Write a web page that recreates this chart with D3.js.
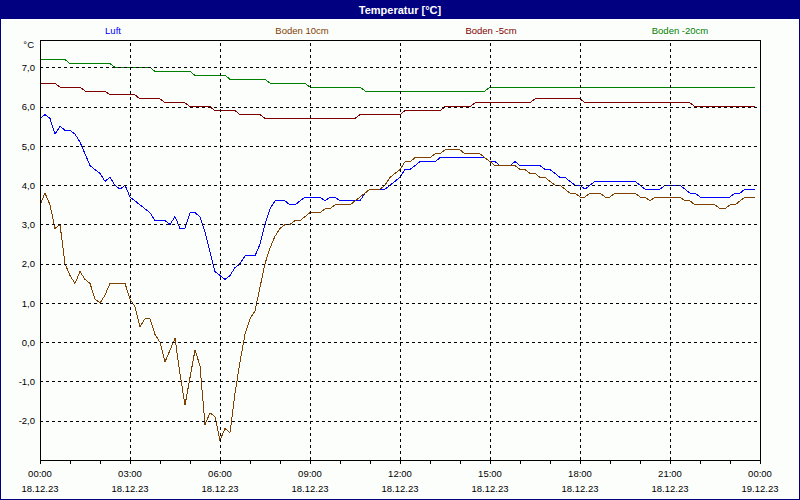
<!DOCTYPE html>
<html>
<head>
<meta charset="utf-8">
<script src="https://cdn.jsdelivr.net/npm/d3@7"></script>
<style>
  body { margin: 0; background: #fff; }
  svg { display: block; font-family: 'Liberation Sans', Arial, sans-serif; }
  .grid line { stroke: #000; stroke-dasharray: 3,3; shape-rendering: crispEdges; }
  .grid .domain { display: none; }
  .series { fill: none; stroke-width: 1; shape-rendering: crispEdges; }
  .labels .domain, .labels line { display: none; }
  .labels text { font-size: 9.5px; fill: #000; }
</style>
</head>
<body>
<div id="chart"></div>
<script>
const title = 'Temperatur [°C]'
const unit = '°C'
const start = new Date(2023, 11, 18, 0, 0)
const end = new Date(2023, 11, 19, 0, 0)
const stepMinutes = 10 // one reading every 10 minutes, 00:00 .. 23:50

const seriesNames = ['Luft', 'Boden 10cm', 'Boden -5cm', 'Boden -20cm']
const seriesColors = ['#0000ff', '#804000', '#800000', '#008000']

const luft = [
  5.7, 5.8, 5.7, 5.3, 5.5, 5.4, 5.4, 5.3, 5.1, 4.8,
  4.5, 4.4, 4.3, 4.1, 4.2, 4.0, 3.9, 4.0, 3.7, 3.6,
  3.5, 3.4, 3.3, 3.1, 3.1, 3.1, 3.0, 3.2, 2.9, 2.9,
  3.3, 3.3, 3.2, 2.8, 2.3, 1.8, 1.7, 1.6, 1.7, 1.9,
  2.0, 2.2, 2.2, 2.2, 2.5, 3.0, 3.4, 3.6, 3.6, 3.6,
  3.5, 3.5, 3.6, 3.7, 3.7, 3.7, 3.7, 3.6, 3.7, 3.7,
  3.6, 3.6, 3.6, 3.6, 3.6, 3.8, 3.9, 3.9, 3.9, 3.9,
  4.0, 4.1, 4.2, 4.4, 4.4, 4.5, 4.6, 4.6, 4.6, 4.6,
  4.7, 4.7, 4.7, 4.7, 4.7, 4.7, 4.7, 4.7, 4.7, 4.7,
  4.6, 4.6, 4.5, 4.5, 4.5, 4.6, 4.5, 4.5, 4.5, 4.5,
  4.5, 4.4, 4.4, 4.3, 4.2, 4.2, 4.1, 4.0, 4.0, 3.9,
  4.0, 4.1, 4.1, 4.1, 4.1, 4.1, 4.1, 4.1, 4.1, 4.1,
  4.0, 3.9, 3.9, 3.9, 3.9, 4.0, 4.0, 4.0, 4.0, 3.9,
  3.8, 3.8, 3.7, 3.7, 3.7, 3.7, 3.7, 3.7, 3.7, 3.8,
  3.8, 3.9, 3.9, 3.9
]

const boden10 = [
  3.5, 3.8, 3.5, 2.9, 3.0, 2.0, 1.7, 1.5, 1.8, 1.6,
  1.5, 1.1, 1.0, 1.2, 1.5, 1.5, 1.5, 1.5, 1.1, 0.9,
  0.4, 0.6, 0.6, 0.2, 0.0, -0.5, -0.2, 0.1, -0.8, -1.6,
  -0.9, -0.2, -0.6, -2.1, -1.8, -1.9, -2.5, -2.2, -2.3, -1.3,
  -0.5, 0.2, 0.6, 0.8, 1.4, 2.0, 2.4, 2.7, 2.9, 3.0,
  3.0, 3.1, 3.1, 3.2, 3.3, 3.3, 3.3, 3.4, 3.4, 3.5,
  3.5, 3.5, 3.5, 3.6, 3.7, 3.8, 3.9, 3.9, 3.9, 4.0,
  4.2, 4.3, 4.4, 4.6, 4.6, 4.7, 4.7, 4.7, 4.7, 4.8,
  4.8, 4.9, 4.9, 4.9, 4.9, 4.8, 4.8, 4.8, 4.8, 4.7,
  4.6, 4.5, 4.5, 4.5, 4.5, 4.5, 4.4, 4.4, 4.3, 4.3,
  4.2, 4.2, 4.1, 4.0, 4.0, 3.9, 3.8, 3.8, 3.7, 3.7,
  3.8, 3.8, 3.8, 3.7, 3.7, 3.8, 3.8, 3.8, 3.8, 3.8,
  3.7, 3.7, 3.6, 3.7, 3.7, 3.7, 3.7, 3.7, 3.7, 3.6,
  3.6, 3.5, 3.5, 3.5, 3.5, 3.5, 3.4, 3.4, 3.5, 3.5,
  3.6, 3.7, 3.7, 3.7
]

const boden5 = [
  6.6, 6.6, 6.6, 6.6, 6.5, 6.5, 6.5, 6.5, 6.5, 6.4,
  6.4, 6.4, 6.4, 6.4, 6.3, 6.3, 6.3, 6.3, 6.3, 6.3,
  6.2, 6.2, 6.2, 6.2, 6.2, 6.1, 6.1, 6.1, 6.1, 6.1,
  6.0, 6.0, 6.0, 6.0, 6.0, 5.9, 5.9, 5.9, 5.9, 5.9,
  5.8, 5.8, 5.8, 5.8, 5.8, 5.7, 5.7, 5.7, 5.7, 5.7,
  5.7, 5.7, 5.7, 5.7, 5.7, 5.7, 5.7, 5.7, 5.7, 5.7,
  5.7, 5.7, 5.7, 5.7, 5.8, 5.8, 5.8, 5.8, 5.8, 5.8,
  5.8, 5.8, 5.8, 5.9, 5.9, 5.9, 5.9, 5.9, 5.9, 5.9,
  5.9, 6.0, 6.0, 6.0, 6.0, 6.0, 6.0, 6.1, 6.1, 6.1,
  6.1, 6.1, 6.1, 6.1, 6.1, 6.1, 6.1, 6.1, 6.1, 6.2,
  6.2, 6.2, 6.2, 6.2, 6.2, 6.2, 6.2, 6.2, 6.2, 6.1,
  6.1, 6.1, 6.1, 6.1, 6.1, 6.1, 6.1, 6.1, 6.1, 6.1,
  6.1, 6.1, 6.1, 6.1, 6.1, 6.1, 6.1, 6.1, 6.1, 6.1,
  6.1, 6.0, 6.0, 6.0, 6.0, 6.0, 6.0, 6.0, 6.0, 6.0,
  6.0, 6.0, 6.0, 6.0
]

const boden20 = [
  7.2, 7.2, 7.2, 7.2, 7.2, 7.2, 7.1, 7.1, 7.1, 7.1,
  7.1, 7.1, 7.1, 7.1, 7.1, 7.0, 7.0, 7.0, 7.0, 7.0,
  7.0, 7.0, 7.0, 6.9, 6.9, 6.9, 6.9, 6.9, 6.9, 6.9,
  6.9, 6.8, 6.8, 6.8, 6.8, 6.8, 6.8, 6.8, 6.7, 6.7,
  6.7, 6.7, 6.7, 6.7, 6.7, 6.7, 6.6, 6.6, 6.6, 6.6,
  6.6, 6.6, 6.6, 6.6, 6.5, 6.5, 6.5, 6.5, 6.5, 6.5,
  6.5, 6.5, 6.5, 6.5, 6.5, 6.4, 6.4, 6.4, 6.4, 6.4,
  6.4, 6.4, 6.4, 6.4, 6.4, 6.4, 6.4, 6.4, 6.4, 6.4,
  6.4, 6.4, 6.4, 6.4, 6.4, 6.4, 6.4, 6.4, 6.4, 6.4,
  6.5, 6.5, 6.5, 6.5, 6.5, 6.5, 6.5, 6.5, 6.5, 6.5,
  6.5, 6.5, 6.5, 6.5, 6.5, 6.5, 6.5, 6.5, 6.5, 6.5,
  6.5, 6.5, 6.5, 6.5, 6.5, 6.5, 6.5, 6.5, 6.5, 6.5,
  6.5, 6.5, 6.5, 6.5, 6.5, 6.5, 6.5, 6.5, 6.5, 6.5,
  6.5, 6.5, 6.5, 6.5, 6.5, 6.5, 6.5, 6.5, 6.5, 6.5,
  6.5, 6.5, 6.5, 6.5
]

const yTicks = [-2, -1, 0, 1, 2, 3, 4, 5, 6, 7]
const xLabelHours = [0, 3, 6, 9, 12, 15, 18, 21, 24]

const series = [luft, boden10, boden5, boden20]

const width = 800
const height = 500
const margin = { top: 40, right: 40, bottom: 40, left: 40 }
const plotW = width - margin.left - margin.right
const plotH = height - margin.top - margin.bottom

const locale = d3.formatLocale({
  decimal: ',', thousands: '.', grouping: [3], currency: ['', ''], minus: '-'
})
const fmt = locale.format('.1f')

const x = d3.scaleTime()
  .domain([start, end])
  .range([margin.left, margin.left + plotW])
const y = d3.scaleLinear()
  .domain([-3, 7.7])
  .range([margin.top + plotH, margin.top])

const svg = d3.select('#chart').append('svg')
  .attr('width', width)
  .attr('height', height)

svg.append('rect')
  .attr('width', width)
  .attr('height', height)
  .attr('fill', '#fcfefc')

// title bar
svg.append('rect')
  .attr('width', width)
  .attr('height', 19)
  .attr('fill', '#000080')
svg.append('text')
  .attr('x', width / 2)
  .attr('y', 13.5)
  .attr('text-anchor', 'middle')
  .style('font-size', '11px')
  .style('font-weight', 'bold')
  .attr('fill', '#fff')
  .text(title)

// outer frame
svg.append('rect')
  .attr('x', 0.5)
  .attr('y', 0.5)
  .attr('width', width - 1)
  .attr('height', height - 1)
  .attr('fill', 'none')
  .attr('stroke', '#000080')

// legend
const legendX = d3.scalePoint()
  .domain(seriesNames)
  .range([113, 680])
svg.append('g')
  .selectAll('text')
  .data(seriesNames)
  .join('text')
  .attr('x', d => legendX(d))
  .attr('y', 34)
  .attr('text-anchor', 'middle')
  .style('font-size', '9.5px')
  .attr('fill', (d, i) => seriesColors[i])
  .text(d => d)

// unit label
svg.append('text')
  .attr('x', 34)
  .attr('y', 48)
  .attr('text-anchor', 'end')
  .style('font-size', '9.5px')
  .text(unit)

// series
const line = d3.line()
  .x((d, i) => x(d3.timeMinute.offset(start, i * stepMinutes)))
  .y(d => y(d))

svg.append('g')
  .selectAll('path')
  .data(series)
  .join('path')
  .classed('series', true)
  .attr('stroke', (d, i) => seriesColors[i])
  .attr('d', line)

// grid
const xLabelDates = xLabelHours.map(h => d3.timeHour.offset(start, h))

svg.append('g')
  .classed('grid', true)
  .attr('transform', `translate(${margin.left},0)`)
  .call(d3.axisLeft(y)
    .tickValues(yTicks)
    .tickSize(-plotW)
    .tickFormat(''))

svg.append('g')
  .classed('grid', true)
  .attr('transform', `translate(0,${margin.top + plotH})`)
  .call(d3.axisBottom(x)
    .tickValues(xLabelDates.slice(1, -1))
    .tickSize(plotH)
    .tickSizeOuter(0)
    .tickFormat(''))
  .selectAll('line')
  .attr('y2', -plotH)

// hourly ticks below the plot
svg.append('g')
  .attr('transform', `translate(0,${margin.top + plotH})`)
  .call(d3.axisBottom(x)
    .ticks(d3.timeHour.every(1))
    .tickSize(4)
    .tickSizeOuter(0)
    .tickFormat(''))
  .call(g => g.select('.domain').remove())
  .selectAll('line')
  .attr('stroke', '#000')
  .style('shape-rendering', 'crispEdges')

// plot border
svg.append('rect')
  .attr('x', margin.left)
  .attr('y', margin.top)
  .attr('width', plotW)
  .attr('height', plotH)
  .attr('fill', 'none')
  .attr('stroke', '#000')
  .style('shape-rendering', 'crispEdges')

// y labels
svg.append('g')
  .classed('labels', true)
  .attr('transform', `translate(${margin.left},0)`)
  .call(d3.axisLeft(y)
    .tickValues(yTicks)
    .tickSize(0)
    .tickPadding(5)
    .tickFormat(fmt))

// x labels, time and date on two rows
const timeFmt = d3.timeFormat('%H:%M')
const dateFmt = d3.timeFormat('%d.%m.%y')
const xl = svg.append('g')
  .selectAll('text')
  .data(xLabelDates)
  .join('text')
  .attr('x', d => x(d))
  .attr('text-anchor', 'middle')
  .style('font-size', '9.5px')
xl.append('tspan')
  .attr('x', d => x(d))
  .attr('y', 477)
  .text(timeFmt)
xl.append('tspan')
  .attr('x', d => x(d))
  .attr('y', 492)
  .text(dateFmt)
</script>
</body>
</html>
